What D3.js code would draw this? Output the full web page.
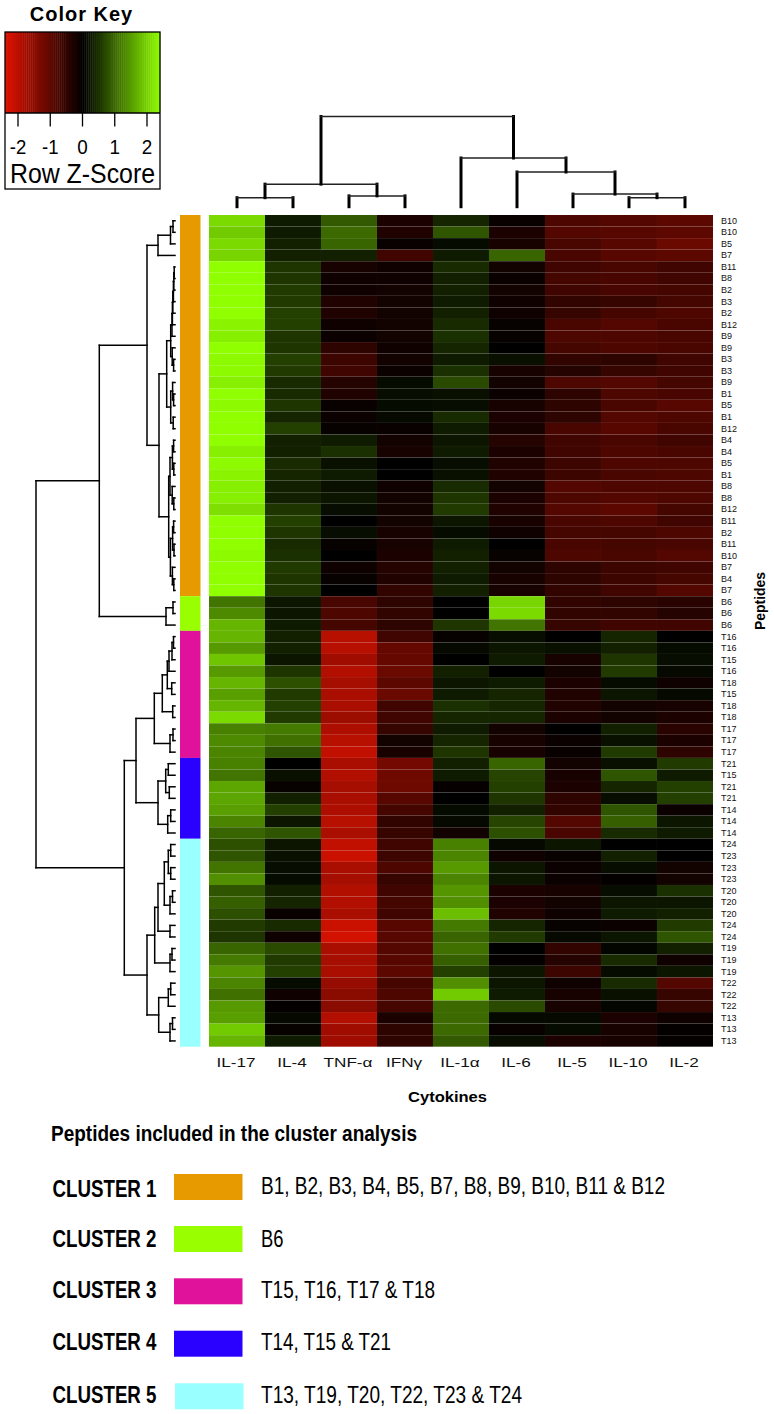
<!DOCTYPE html>
<html>
<head>
<meta charset="utf-8">
<title>Cytokine heatmap</title>
<script src="https://cdnjs.cloudflare.com/ajax/libs/d3/7.8.5/d3.min.js"></script>
<style>
  html, body { margin: 0; padding: 0; background: #fff; }
  svg { display: block; font-family: "Liberation Sans", Arial, sans-serif; }
</style>
</head>
<body>
<div id="chart"></div>
<script>
// columns, in dendrogram order
const cytokines = ['IL-17', 'IL-4', 'TNF-α', 'IFNγ', 'IL-1α', 'IL-6', 'IL-5', 'IL-10', 'IL-2'];

// one label per heatmap row, top to bottom
const rowLabels = [
  'B10','B10','B5','B7','B11','B8','B2','B3','B2','B12','B9','B9','B3','B3','B9','B1','B5','B1','B12',
  'B4','B4','B5','B1','B8','B8','B12','B11','B2','B11','B10','B7','B4','B7',
  'B6','B6','B6',
  'T16','T16','T15','T16','T18','T15','T18','T18','T17','T17','T17',
  'T21','T15','T21','T21','T14','T14','T14',
  'T24','T23','T23','T23','T20','T20','T20','T24','T24','T19','T19','T19','T22','T22','T22','T13','T13','T13'
];

// z-scores, one array per cytokine
const il17 = [2.05,1.9,2.05,2.0,2.4,2.4,2.4,2.4,2.4,2.3,2.25,2.4,2.35,2.35,2.25,2.4,2.35,2.4,2.4,2.4,2.25,2.35,2.3,2.25,2.25,2.1,2.4,2.4,2.4,2.35,2.4,2.4,2.4,1.1,1.3,1.7,1.7,1.45,1.85,1.45,1.7,1.5,1.7,2.05,1.2,1.3,1.25,1.2,1.1,1.55,1.55,1.5,1.25,0.95,0.75,0.8,1.1,1.35,0.8,0.9,0.75,0.55,0.5,0.95,1.15,1.4,1.25,1.05,1.45,1.5,1.9,1.7];
const il4 = [0.25,0.25,0.3,0.3,0.5,0.5,0.55,0.55,0.6,0.6,0.5,0.5,0.6,0.55,0.4,0.4,0.5,0.35,0.6,0.3,0.3,0.4,0.35,0.3,0.3,0.5,0.6,0.5,0.4,0.45,0.55,0.5,0.5,0.2,0.2,0.25,0.3,0.3,0.2,0.5,0.75,0.55,0.6,0.55,1.15,1.05,0.8,0,0.15,-0.08,0.3,0.6,0.2,0.8,0.2,0.15,0.12,0.1,0.3,0.35,-0.1,0.4,-0.15,0.7,0.55,0.6,0.1,-0.15,-0.05,0.08,-0.08,0.25];
const tnf = [0.85,1.0,0.95,0.3,-0.25,-0.15,-0.15,-0.35,-0.35,-0.15,-0.12,-0.5,-0.65,-0.7,-0.4,-0.35,-0.1,-0.12,-0.08,0.25,0.45,0.15,0.25,0.15,0.2,0.12,0,0.12,-0.08,0,-0.15,-0.08,0,-0.8,-0.85,-0.75,-2.0,-2.0,-1.75,-1.95,-1.8,-1.85,-1.85,-1.7,-1.9,-2.0,-2.1,-1.85,-1.95,-1.8,-1.85,-1.9,-2.0,-1.85,-2.1,-2.2,-1.85,-1.8,-1.95,-1.95,-1.85,-2.2,-2.3,-1.85,-1.8,-1.85,-1.65,-1.5,-1.5,-1.95,-1.75,-1.75];
const ifng = [-0.3,-0.35,-0.1,-0.7,-0.15,-0.15,-0.2,-0.2,-0.2,-0.2,-0.2,-0.15,-0.2,-0.12,0.1,0.12,0.1,0.08,-0.1,-0.2,-0.25,0,0,-0.15,-0.2,-0.2,-0.2,-0.25,-0.25,-0.3,-0.4,-0.35,-0.55,-0.5,-0.55,-0.5,-0.7,-1.1,-1.1,-1.15,-1.0,-1.15,-0.7,-0.7,-0.6,-0.2,-0.25,-1.25,-1.2,-1.2,-0.95,-0.75,-0.55,-0.6,-0.7,-0.65,-0.85,-0.6,-0.7,-0.75,-0.7,-0.95,-0.95,-0.9,-0.95,-1.0,-0.75,-0.85,-0.75,-0.3,-0.5,-0.5];
const il1a = [0.35,0.8,0.1,0.25,0.4,0.3,0.3,0.25,0.3,0.4,0.45,0.35,0.25,0.45,0.7,0.15,0.12,0.4,0.25,0.2,0.25,0.12,0.15,0.4,0.5,0.55,0.2,0.1,0.25,0.3,0.3,0.25,0.3,0,0,0.5,-0.08,0.08,0,0.3,0.2,0.25,0.45,0.35,0.25,0.35,0.5,0.3,0.25,-0.06,0,0.1,0.08,-0.2,1.2,1.25,1.45,1.25,1.4,1.35,1.8,1.15,0.95,1.05,0.9,0.6,1.35,1.9,1.0,1.0,1.0,0.85];
const il6 = [-0.1,-0.3,-0.25,0.95,-0.2,-0.1,-0.2,-0.15,-0.15,-0.08,-0.08,0,0.15,-0.25,-0.2,-0.12,-0.25,-0.3,-0.25,-0.4,-0.3,-0.35,-0.35,-0.2,-0.3,-0.35,-0.25,-0.15,0,-0.08,-0.2,-0.25,-0.25,2.0,2.05,1.1,0.12,0.2,0.25,0,0.25,0.35,0.35,0.35,-0.2,-0.25,-0.25,0.95,0.65,0.6,0.5,0.3,0.65,0.75,0.08,-0.15,0.2,0.2,-0.3,-0.3,-0.35,0.35,0.55,0,-0.05,0.2,0.2,0.25,0.7,0.08,-0.1,0.12];
const il5 = [-0.85,-0.9,-0.8,-0.8,-0.7,-0.75,-0.7,-0.55,-0.6,-0.8,-0.85,-0.75,-0.55,-0.4,-0.85,-0.5,-0.5,-0.5,-0.8,-0.7,-0.7,-0.65,-0.65,-0.9,-0.85,-0.9,-0.8,-0.75,-0.8,-0.85,-0.5,-0.5,-0.55,-0.55,-0.55,-0.6,0,0.15,-0.25,-0.2,-0.3,-0.35,-0.35,-0.3,0,-0.12,-0.1,-0.2,-0.25,-0.3,-0.5,-0.55,-0.9,-0.8,0.2,-0.08,-0.12,-0.12,-0.25,-0.2,-0.15,-0.08,0.08,-0.55,-0.4,-0.65,-0.15,-0.25,-0.25,0.08,0.1,-0.3];
const il10 = [-0.9,-0.95,-0.95,-0.95,-0.8,-0.8,-0.8,-0.6,-0.75,-0.9,-0.85,-0.85,-0.5,-0.6,-0.9,-0.85,-0.8,-0.9,-0.95,-0.8,-0.85,-0.85,-0.8,-0.85,-0.9,-1.0,-0.85,-0.75,-0.75,-0.8,-0.65,-0.65,-0.7,-0.5,-0.55,-0.7,0.35,0.3,0.5,0.55,0.1,0.2,-0.2,-0.2,0.3,0.15,0.55,0.15,0.8,0.35,0.12,0.8,0.9,0.4,0,0.3,0.12,-0.05,0.12,0.2,0.25,-0.12,0.2,0.05,0.4,0.1,0.4,0.15,0.05,-0.3,-0.25,-0.25];
const il2 = [-1.0,-1.0,-1.15,-1.0,-0.7,-0.7,-0.75,-0.75,-0.85,-0.8,-0.8,-0.8,-0.7,-0.7,-0.75,-0.8,-0.95,-0.85,-0.8,-0.7,-0.8,-0.85,-0.85,-0.85,-0.85,-0.75,-0.7,-0.85,-0.8,-0.9,-0.7,-0.75,-0.9,-0.45,-0.4,-0.7,0,0.1,0.12,0.08,-0.15,0.08,-0.25,-0.3,-0.45,-0.3,-0.5,0.55,0.25,0.6,0.6,-0.12,0.2,0.25,0,0,-0.2,-0.2,0.45,0.2,0.3,0.55,0.8,0.3,-0.15,0.2,-0.9,-0.6,-0.6,-0.15,-0.05,-0.05];
const columns = [il17, il4, tnf, ifng, il1a, il6, il5, il10, il2];

// side bar: how many consecutive rows belong to each cluster
const clusterNames = ['CLUSTER 1', 'CLUSTER 2', 'CLUSTER 3', 'CLUSTER 4', 'CLUSTER 5'];
const clusterSizes = [33, 3, 11, 7, 18];
const clusterColors = ['#e69a00', '#99ff00', '#e0119a', '#2a00ff', '#99ffff'];
const clusterPeptides = [
  'B1, B2, B3, B4, B5, B7, B8, B9, B10, B11 & B12',
  'B6',
  'T15, T16, T17 & T18',
  'T14, T15 & T21',
  'T13, T19, T20, T22, T23 & T24'
];

const keyTicks = [-2, -1, 0, 1, 2];

// dendrograms as nested [height, left, right]; a number is a leaf index
const colTree = [10,
  [2.5, [1.0, 0, 1], [1.2, 2, 3]],
  [5.4, 4, [3.85, 5, [1.4, 6, [1.0, 7, 8]]]]
];

const rowTree = [139,
  [75.7,
    [28,
      [17, [4.5, [2, 0, 1], 2], 3],
      [16,
        [8.3,
          [4.3,
            [3, [2.6, [2.2, [1.6, [1.2, [0.8, 4, 5], 6], 7], 8], 9], 10],
            [2.8, 11, [1.4, 12, 13]]
          ],
          [4.3, [2.4, 14, [1.4, 15, 16]], [1.8, 17, 18]]
        ],
        [6.3,
          [5, [2.6, [1.4, 19, 20], [1.2, 21, 22]], [2.8, 23, [1.2, 24, 25]]],
          [4.6, [2.4, [1.4, 26, 27], [1, 28, 29]], [2.6, 30, [1.2, 31, 32]]]
        ]
      ]
    ],
    [9, [2, 33, 34], 35]
  ],
  [50.7,
    [39,
      [20.7,
        [12.7,
          [7.7, [6, [3, [1.5, 36, 37], 38], 39], [3.3, 40, 41]],
          [2.3, 42, 43]
        ],
        [5, [2, 44, 45], 46]
      ],
      [17,
        [9.3, [6.7, 47, 48], [5.7, 49, 50]],
        [7.3, [4.3, 51, 52], 53]
      ]
    ],
    [28,
      [20.3,
        [17,
          [10.7,
            [6.7, [4.3, 54, 55], [4.3, 56, 57]],
            [5, [2.5, 58, 59], 60]
          ],
          [5, 61, 62]
        ],
        [5, [3, 63, 64], 65]
      ],
      [16.3,
        [6.7, [4.3, 66, 67], 68],
        [5, [2.5, 69, 70], 71]
      ]
    ]
  ]
];

// ---- layout ----
const width = 774, height = 1414;
const heat = { left: 209, right: 713, top: 215, bottom: 1046.7 };

const svg = d3.select('#chart').append('svg')
  .attr('width', width)
  .attr('height', height)
  .attr('viewBox', `0 0 ${width} ${height}`);

const xBand = d3.scaleBand().domain(cytokines).range([heat.left, heat.right]);
const yBand = d3.scaleBand().domain(d3.range(rowLabels.length)).range([heat.top, heat.bottom]);

const color = d3.scaleLinear()
  .domain([-2.4, 0, 2.4])
  .range(['#dc1200', '#000000', '#90ff00'])
  .clamp(true);

// ---- heatmap cells ----
const cells = cytokines.flatMap((c, ci) => rowLabels.map((r, ri) => ({ c, ri, v: columns[ci][ri] })));
svg.append('g').selectAll('rect').data(cells).join('rect')
  .attr('x', d => xBand(d.c))
  .attr('y', d => yBand(d.ri))
  .attr('width', xBand.bandwidth())
  .attr('height', yBand.bandwidth())
  .attr('fill', d => color(d.v))
  .attr('stroke', 'rgba(255,255,255,0.035)')
  .attr('stroke-width', 0.5);

// ---- cluster side bar ----
const clusterStart = d3.cumsum([0].concat(clusterSizes));
svg.append('g').selectAll('rect').data(clusterSizes).join('rect')
  .attr('x', 180)
  .attr('width', 20.5)
  .attr('y', (d, i) => yBand(clusterStart[i]))
  .attr('height', d => d * yBand.step())
  .attr('fill', (d, i) => clusterColors[i]);

// ---- axes ----
const xAxis = svg.append('g')
  .attr('transform', `translate(0,${heat.bottom})`)
  .call(d3.axisBottom(xBand).tickSize(0).tickPadding(11));
xAxis.select('.domain').remove();
xAxis.selectAll('text')
  .attr('transform', 'translate(-1,0) scale(1.27,1)')
  .attr('fill', '#111')
  .style('font-family', '"Liberation Sans", Arial, sans-serif')
  .style('font-size', '13.5px');

const yAxis = svg.append('g')
  .attr('transform', `translate(${heat.right},0)`)
  .call(d3.axisRight(yBand).tickSize(0).tickPadding(8).tickFormat(i => rowLabels[i]));
yAxis.select('.domain').remove();
yAxis.selectAll('text')
  .attr('fill', '#111')
  .style('font-family', '"Liberation Sans", Arial, sans-serif')
  .style('font-size', '9px');

svg.append('text')
  .attr('x', 447.5).attr('y', 1102)
  .attr('text-anchor', 'middle')
  .attr('font-weight', 'bold')
  .attr('font-size', 15.5)
  .attr('textLength', 79)
  .attr('lengthAdjust', 'spacingAndGlyphs')
  .text('Cytokines');

svg.append('text')
  .attr('transform', 'translate(765,601) rotate(-90)')
  .attr('text-anchor', 'middle')
  .attr('font-weight', 'bold')
  .attr('font-size', 15.5)
  .attr('textLength', 58)
  .attr('lengthAdjust', 'spacingAndGlyphs')
  .text('Peptides');

// ---- dendrograms ----
// walks the tree, returns the node position and pushes the node's three segments
function walk(node, leafPos, segs) {
  if (typeof node === 'number') return { pos: leafPos(node), h: 0 };
  const [h, l, r] = node;
  const a = walk(l, leafPos, segs);
  const b = walk(r, leafPos, segs);
  segs.push({ kind: 'stem', p: a.pos, h0: a.h, h1: h });
  segs.push({ kind: 'stem', p: b.pos, h0: b.h, h1: h });
  segs.push({ kind: 'bar', p0: a.pos, p1: b.pos, h });
  return { pos: (a.pos + b.pos) / 2, h };
}

const colSegs = [];
walk(colTree, i => xBand(cytokines[i]) + xBand.bandwidth() / 2, colSegs);
const colH = d3.scaleLinear().domain([0, 10]).range([206.7, 116.5]);

svg.append('g').selectAll('line').data(colSegs).join('line')
  .attr('x1', d => d.kind === 'stem' ? d.p : d.p0)
  .attr('x2', d => d.kind === 'stem' ? d.p : d.p1)
  .attr('y1', d => d.kind === 'stem' ? colH(d.h0) : colH(d.h))
  .attr('y2', d => d.kind === 'stem' ? colH(d.h1) : colH(d.h))
  .attr('stroke', d => d.kind === 'stem' ? '#000' : '#222')
  .attr('stroke-width', d => d.kind === 'stem' ? 3 : 1.5)
  .attr('stroke-linecap', 'square');

const rowSegs = [];
walk(rowTree, i => yBand(i) + yBand.bandwidth() / 2, rowSegs);
const rowH = d3.scaleLinear().domain([0, 139]).range([175, 36]);

svg.append('g').selectAll('line').data(rowSegs).join('line')
  .attr('y1', d => d.kind === 'stem' ? d.p : d.p0)
  .attr('y2', d => d.kind === 'stem' ? d.p : d.p1)
  .attr('x1', d => d.kind === 'stem' ? rowH(d.h0) : rowH(d.h))
  .attr('x2', d => d.kind === 'stem' ? rowH(d.h1) : rowH(d.h))
  .attr('stroke', '#000')
  .attr('stroke-width', 1.5)
  .attr('stroke-linecap', 'square');

// ---- colour key ----
const keyX = d3.scaleLinear().domain([-2, 2]).range([18, 147]);
const keySteps = d3.range(-2.4, 2.4, 0.06);
const keyG = svg.append('g');

keyG.selectAll('rect').data(keySteps).join('rect')
  .attr('x', d => keyX(d))
  .attr('y', 32)
  .attr('width', keyX(0.06) - keyX(0) + 0.4)
  .attr('height', 81)
  .attr('fill', d => color(d));

keyG.append('rect')
  .attr('x', 5).attr('y', 32).attr('width', 155).attr('height', 157)
  .attr('fill', 'none').attr('stroke', '#000').attr('stroke-width', 1.3);
keyG.append('line')
  .attr('x1', 5).attr('x2', 160).attr('y1', 113).attr('y2', 113)
  .attr('stroke', '#000').attr('stroke-width', 1.3);

keyG.append('g').selectAll('line').data(keyTicks).join('line')
  .attr('x1', d => keyX(d)).attr('x2', d => keyX(d))
  .attr('y1', 113).attr('y2', 126.5)
  .attr('stroke', '#000').attr('stroke-width', 1.3);
keyG.append('g').selectAll('text').data(keyTicks).join('text')
  .attr('x', d => keyX(d))
  .attr('y', 154)
  .attr('text-anchor', 'middle')
  .attr('font-size', 19.5)
  .attr('textLength', d => d < 0 ? 16.5 : 10.5)
  .attr('lengthAdjust', 'spacingAndGlyphs')
  .text(d => d);

keyG.append('text')
  .attr('x', 82.5).attr('y', 183)
  .attr('text-anchor', 'middle')
  .attr('font-size', 27)
  .attr('textLength', 145)
  .attr('lengthAdjust', 'spacingAndGlyphs')
  .text('Row Z-Score');
keyG.append('text')
  .attr('x', 81.5).attr('y', 20.7)
  .attr('text-anchor', 'middle')
  .attr('font-weight', 'bold')
  .attr('font-size', 20)
  .attr('letter-spacing', 1)
  .text('Color Key');

// ---- cluster legend ----
const legendBaseline = [1197, 1247, 1298, 1350, 1403];
const swatchTop = [1174, 1226, 1278.3, 1330.7, 1383.3];
const peptideWidths = [404, 22.5, 174, 130, 261];

svg.append('text')
  .attr('x', 51).attr('y', 1140.5)
  .attr('font-weight', 'bold')
  .attr('font-size', 22)
  .attr('textLength', 366)
  .attr('lengthAdjust', 'spacingAndGlyphs')
  .text('Peptides included in the cluster analysis');

const legend = svg.append('g').selectAll('g').data(clusterNames).join('g');
legend.append('text')
  .attr('x', 52.5)
  .attr('y', (d, i) => legendBaseline[i])
  .attr('font-weight', 'bold')
  .attr('font-size', 23)
  .attr('textLength', 104)
  .attr('lengthAdjust', 'spacingAndGlyphs')
  .text(d => d);
legend.append('rect')
  .attr('x', (d, i) => i === 4 ? 175 : 174)
  .attr('y', (d, i) => swatchTop[i])
  .attr('width', 68.5)
  .attr('height', 26)
  .attr('fill', (d, i) => clusterColors[i]);
legend.append('text')
  .attr('x', 261)
  .attr('y', (d, i) => i === 0 ? 1194 : legendBaseline[i])
  .attr('font-size', 23)
  .attr('textLength', (d, i) => peptideWidths[i])
  .attr('lengthAdjust', 'spacingAndGlyphs')
  .text((d, i) => clusterPeptides[i]);
</script>
</body>
</html>
